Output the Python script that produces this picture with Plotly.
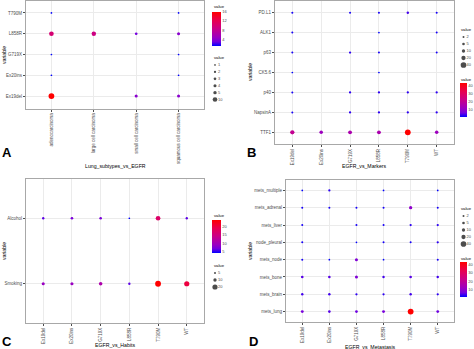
import numpy as np
import plotly.graph_objects as go

W, H = 474, 349
FONT = "Liberation Sans"

# ---------------- data ----------------
# Panel A: Lung subtypes vs EGFR
a_x = ["adenocarcinoma", "large cell carcinoma", "small cell carcinoma", "squamous cell carcinoma"]
a_y = ["Ex19del", "Ex20ins", "G719X", "L858R", "T790M"]
a_Ex19del = [16, None, 4, 4]
a_Ex20ins = [1, None, None, 1]
a_G719X = [1, None, None, 1]
a_L858R = [10, 9, 3, 4]
a_T790M = [1, None, None, 1]
a_vals = [a_Ex19del, a_Ex20ins, a_G719X, a_L858R, a_T790M]

# Panel B: EGFR vs Markers
egfr = ["Ex19del", "Ex20ins", "G719X", "L858R", "T790M", "WT"]
b_y = ["TTF1", "NapsinA", "p40", "CK5.6", "p63", "ALK1", "PD.L1"]
b_TTF1 = [20, 12, 15, 15, 42, 12]
b_NapsinA = [2, None, 3, 3, 3, 3]
b_p40 = [2, None, 3, 3, 3, 3]
b_CK56 = [1, None, None, 1, None, None]
b_p63 = [2, None, 3, 2, None, 2]
b_ALK1 = [2, None, None, 1, None, 2]
b_PDL1 = [2, None, 2, 2, 4, 2]
b_vals = [b_TTF1, b_NapsinA, b_p40, b_CK56, b_p63, b_ALK1, b_PDL1]

# Panel C: EGFR vs Habits
c_y = ["Smoking", "Alcohol"]
c_Smoking = [9, 9, 11, 6, 24, 20]
c_Alcohol = [6, 7, 7, 4, 17, 6]
c_vals = [c_Smoking, c_Alcohol]

# Panel D: EGFR vs Metastasis
d_y = ["mets_lung", "mets_brain", "mets_bone", "mets_node", "node_pleural",
       "mets_liver", "mets_adrenal", "mets_multiple"]
d_lung = [7, 5, 6, 7, 43, 6]
d_brain = [4, 4, 3, 3, 4, 3]
d_bone = [5, 5, 8, 4, 5, 4]
d_node = [2, 1, 8, 1, None, 2]
d_pleural = [2, None, 1, 2, 2, 3]
d_liver = [2, None, 2, 2, 3, 3]
d_adrenal = [2, 2, 2, 2, 10, 2]
d_multiple = [1, 3, None, 1, None, 1]
d_vals = [d_lung, d_brain, d_bone, d_node, d_pleural, d_liver, d_adrenal, d_multiple]

# legends
a_size_breaks = [1, 2, 3, 4, 5, 10]
a_color_ticks = [4, 8, 12, 16]
b_size_breaks = [2, 5, 10, 20, 40]
b_color_ticks = [10, 20, 30, 40]
c_size_breaks = [5, 10, 20]
c_color_ticks = [5, 10, 15, 20]
d_size_breaks = [2, 5, 10, 20, 40]
d_color_ticks = [10, 20, 30, 40]

# ---------------- helpers ----------------
COLORSCALE = [[0, "#0000FF"], [0.125, "#7300E0"], [0.25, "#9A00C2"], [0.5, "#C90089"],
              [0.75, "#E80050"], [1, "#FF0000"]]


def px_x(p):
    return min(max(p / W, 0), 1)


def px_y(p):
    return min(max(1 - p / H, 0), 1)


def flatten(xcats, ycats, vals):
    xs, ys, vs = [], [], []
    for yi, row in zip(ycats, vals):
        for xi, v in zip(xcats, row):
            if v is not None:
                xs.append(xi); ys.append(yi); vs.append(v)
    return xs, ys, np.array(vs, dtype=float)


def diam(v, vmin, vmax, lo=1.7, hi=5.8):
    v = np.asarray(v, dtype=float)
    return lo + (hi - lo) * (np.sqrt(v) - np.sqrt(vmin)) / (np.sqrt(vmax) - np.sqrt(vmin))


fig = go.Figure()
layout = dict(
    width=W, height=H, margin=dict(l=0, r=0, t=0, b=0),
    paper_bgcolor="white", plot_bgcolor="white", showlegend=False,
    font=dict(family=FONT, size=5, color="#4D4D4D"),
    annotations=[],
)

panels = [
    dict(x=a_x, y=a_y, v=a_vals, xd=(26, 204), yd=(0.5, 108.5), ct=a_color_ticks,
         cb=(212, 12, 34, 9), sb=a_size_breaks, sl=(215, 61.5, 103),
         title="Lung_subtypes_vs_EGFR", tpos=(115, 166), letter="A", lpos=(7, 152),
         vtitle_c=(212, 7), vtitle_s=(212, 57), ytitle=(4, 55)),
    dict(x=egfr, y=b_y, v=b_vals, xd=(275, 454), yd=(0.7, 144.3), ct=b_color_ticks,
         cb=(460, 83.5, 34, 7), sb=b_size_breaks, sl=(463.5, 33.5, 68.5),
         title="EGFR_vs_Markers", tpos=(364, 166), letter="B", lpos=(251, 152),
         vtitle_c=(459, 79), vtitle_s=(459, 29), ytitle=(250, 72)),
    dict(x=egfr, y=c_y, v=c_vals, xd=(26, 204), yd=(179, 323), ct=c_color_ticks,
         cb=(212, 220, 33, 9), sb=c_size_breaks, sl=(215, 269.5, 290.5),
         title="EGFR_vs_Habits", tpos=(115, 345), letter="C", lpos=(7, 341),
         vtitle_c=(212, 215), vtitle_s=(212, 265), ytitle=(4, 251)),
    dict(x=egfr, y=d_y, v=d_vals, xd=(286, 454), yd=(180, 322), ct=d_color_ticks,
         cb=(460, 262, 35, 7), sb=d_size_breaks, sl=(463.5, 212.5, 247.5),
         title="EGFR_vs_Metastasis", tpos=(370, 347), letter="D", lpos=(253, 341),
         vtitle_c=(459, 258), vtitle_s=(459, 208), ytitle=(250, 251)),
]

for i, p in enumerate(panels):
    k = i + 1
    sfx = "" if k == 1 else str(k)
    xs, ys, vs = flatten(p["x"], p["y"], p["v"])
    vmin, vmax = vs.min(), vs.max()
    cax = "coloraxis" + sfx
    fig.add_trace(go.Scatter(
        x=xs, y=ys, mode="markers", xaxis="x" + sfx, yaxis="y" + sfx,
        marker=dict(size=diam(vs, vmin, vmax), color=vs, coloraxis=cax, line=dict(width=0),
                    opacity=1),
        hoverinfo="skip"))
    axcommon = dict(showline=True, mirror=True, linecolor="#A8A8A8", linewidth=1,
                    showgrid=True, gridcolor="#EBEBEB", gridwidth=0.6,
                    ticks="outside", ticklen=2, tickcolor="#4D4D4D", tickwidth=0.5,
                    tickfont=dict(family=FONT, size=4.5, color="#4D4D4D"),
                    zeroline=False, fixedrange=True)
    layout["xaxis" + sfx] = dict(axcommon, domain=[px_x(p["xd"][0]), px_x(p["xd"][1])],
                                 anchor="y" + sfx, type="category",
                                 categoryorder="array", categoryarray=p["x"],
                                 range=[-0.6, len(p["x"]) - 0.4], tickangle=-90)
    layout["yaxis" + sfx] = dict(axcommon, domain=[px_y(p["yd"][1]), px_y(p["yd"][0])],
                                 anchor="x" + sfx, type="category",
                                 categoryorder="array", categoryarray=p["y"],
                                 range=[-0.6, len(p["y"]) - 0.4])
    cbx, cby, cblen, cbth = p["cb"]
    layout[cax] = dict(
        cmin=vmin, cmax=vmax, colorscale=COLORSCALE,
        colorbar=dict(x=px_x(cbx), xanchor="left", y=px_y(cby), yanchor="top",
                      len=cblen, lenmode="pixels", thickness=cbth, thicknessmode="pixels",
                      xpad=0, ypad=0, outlinewidth=0, ticks="", tickvals=p["ct"],
                      tickfont=dict(family=FONT, size=4, color="#4D4D4D"),
                      ticklabelposition="outside"))
    # size legend
    sk = str(k + 4)
    sb = p["sb"]
    dotx, ytop, ybot = p["sl"]
    fig.add_trace(go.Scatter(
        x=[0] * len(sb), y=list(range(len(sb))), mode="markers",
        xaxis="x" + sk, yaxis="y" + sk, cliponaxis=False,
        marker=dict(size=diam(sb, vmin, vmax), color="black", line=dict(width=0)),
        hoverinfo="skip"))
    fig.add_trace(go.Scatter(
        x=[3] * len(sb), y=list(range(len(sb))), mode="text",
        text=[str(s) for s in sb], textposition="middle right", cliponaxis=False,
        textfont=dict(family=FONT, size=4, color="#4D4D4D"),
        xaxis="x" + sk, yaxis="y" + sk, hoverinfo="skip"))
    layout["xaxis" + sk] = dict(domain=[px_x(dotx - 5), px_x(dotx + 5)], range=[-5, 5],
                                anchor="y" + sk, visible=False, fixedrange=True)
    layout["yaxis" + sk] = dict(domain=[px_y(ybot), px_y(ytop)],
                                range=[len(sb) - 0.5, -0.5],
                                anchor="x" + sk, visible=False, fixedrange=True)
    anns = layout["annotations"]
    anns.append(dict(text=p["title"], x=px_x(p["tpos"][0]), y=px_y(p["tpos"][1]),
                     xref="paper", yref="paper", showarrow=False, xanchor="center",
                     yanchor="middle", font=dict(family=FONT, size=5.2, color="black")))
    anns.append(dict(text="variable", x=px_x(p["ytitle"][0]), y=px_y(p["ytitle"][1]),
                     xref="paper", yref="paper", showarrow=False, textangle=-90,
                     xanchor="center", yanchor="middle",
                     font=dict(family=FONT, size=5.2, color="black")))
    anns.append(dict(text="<b>%s</b>" % p["letter"], x=px_x(p["lpos"][0]), y=px_y(p["lpos"][1]),
                     xref="paper", yref="paper", showarrow=False, xanchor="center",
                     yanchor="middle", font=dict(family=FONT, size=13, color="black")))
    for key in ("vtitle_c", "vtitle_s"):
        anns.append(dict(text="value", x=px_x(p[key][0]), y=px_y(p[key][1]),
                         xref="paper", yref="paper", showarrow=False, xanchor="left",
                         yanchor="middle", font=dict(family=FONT, size=4.2, color="black")))

fig.update_layout(**layout)
fig.write_html("out.html")
